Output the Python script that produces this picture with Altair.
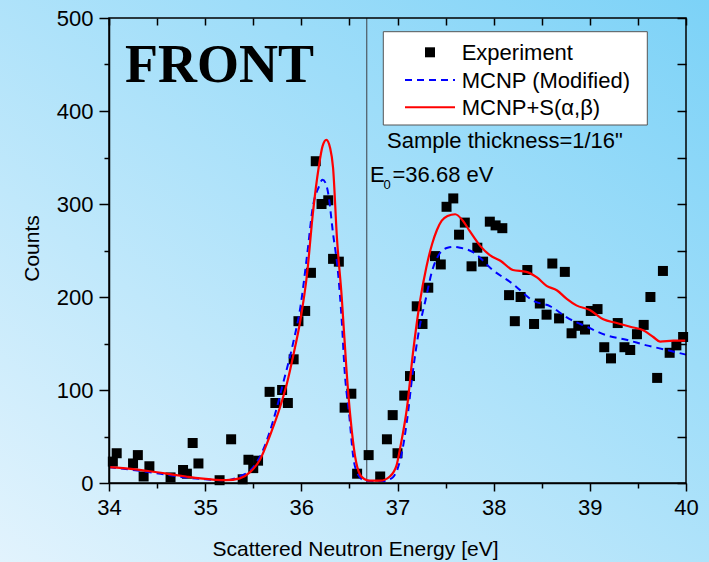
import altair as alt
import pandas as pd

# ---------------- data ----------------
exp_x = [34.04, 34.08, 34.25, 34.30, 34.36, 34.42, 34.64, 34.77, 34.81, 34.87,
         34.93, 35.15, 35.27, 35.39, 35.45, 35.50, 35.55, 35.67, 35.73, 35.80,
         35.86, 35.92, 35.97, 36.04, 36.10, 36.15, 36.21, 36.28, 36.33, 36.39,
         36.45, 36.52, 36.58, 36.70, 36.82, 36.89, 36.95, 37.00, 37.07, 37.13,
         37.20, 37.26, 37.32, 37.39, 37.45, 37.51, 37.58, 37.64, 37.70, 37.77,
         37.83, 37.89, 37.96, 38.02, 38.09, 38.16, 38.22, 38.28, 38.35, 38.42,
         38.48, 38.55, 38.61, 38.68, 38.74, 38.81, 38.88, 38.95, 39.01, 39.08,
         39.15, 39.22, 39.29, 39.36, 39.42, 39.49, 39.56, 39.63, 39.70, 39.76,
         39.83, 39.90, 39.97]
exp_y = [23, 32, 21, 30, 7, 18, 6, 14, 10, 43,
         21, 3, 47, 4, 25, 16, 24, 98, 86, 100,
         86, 133, 174, 185, 226, 346, 300, 304, 241, 238,
         81, 96, 10, 30, 7, 47, 73, 32, 94, 115,
         190, 171, 210, 244, 235, 297, 306, 267, 280, 233,
         253, 238, 281, 277, 274, 202, 174, 200, 229, 171,
         193, 181, 236, 177, 227, 161, 169, 165, 185, 187,
         146, 134, 172, 146, 143, 160, 170, 200, 113, 228,
         140, 148, 157]

red_x = [34.00, 34.25, 34.60, 34.80, 34.95, 35.22, 35.36, 35.47, 35.57, 35.67,
         35.78, 35.85, 35.92, 35.99, 36.06, 36.12, 36.18, 36.22, 36.26, 36.30,
         36.33, 36.37, 36.42, 36.47, 36.51, 36.56, 36.61, 36.66, 36.71, 36.82,
         36.92, 36.99, 37.03, 37.10, 37.16, 37.23, 37.30, 37.36, 37.41, 37.46,
         37.52, 37.60, 37.68, 37.75, 37.86, 37.96, 38.07, 38.20, 38.34, 38.45,
         38.55, 38.66, 38.76, 38.86, 39.00, 39.14, 39.28, 39.42, 39.56, 39.66,
         39.73, 39.87, 40.00]
red_y = [17, 15, 10, 7, 5, 3, 5, 12, 25, 50,
         82, 107, 139, 175, 225, 290, 339, 362, 369, 360,
         339, 264, 200, 121, 71, 28, 9, 4, 2.5, 2.5,
         7, 19, 39, 82, 139, 193, 232, 257, 272, 282,
         287, 289, 282, 271, 255, 245, 239, 229, 227, 221,
         212, 207, 198, 191, 186, 176, 172, 168, 164, 157,
         152, 153, 153]

blue_x = [34.00, 34.25, 34.60, 34.80, 35.00, 35.22, 35.36, 35.50, 35.60, 35.71,
          35.81, 35.92, 35.99, 36.06, 36.12, 36.18, 36.22, 36.25, 36.28, 36.33,
          36.38, 36.42, 36.45, 36.50, 36.54, 36.59, 36.65, 36.75, 36.85, 36.95,
          37.00, 37.05, 37.10, 37.16, 37.23, 37.29, 37.36, 37.44, 37.52, 37.58,
          37.65, 37.79, 37.99, 38.20, 38.41, 38.59, 38.76, 38.97, 39.17, 39.38,
          39.59, 39.80, 40.00]
blue_y = [17, 14, 9, 6, 4, 3, 7, 17, 35, 68,
          107, 153, 189, 245, 297, 318, 326, 323, 311, 268,
          228, 175, 121, 71, 28, 9, 3, 2, 2, 6,
          15, 35, 68, 120, 168, 196, 228, 247, 253, 254,
          253, 248, 229, 214, 196, 190, 178, 168, 159, 154,
          148, 143, 138]

x_ticks = [34, 34.5, 35, 35.5, 36, 36.5, 37, 37.5, 38, 38.5, 39, 39.5, 40]
y_ticks = [0, 50, 100, 150, 200, 250, 300, 350, 400, 450, 500]

legend_labels = ["Experiment", "MCNP (Modified)", "MCNP+S(\u03b1,\u03b2)"]

exp_df = pd.DataFrame({"E": exp_x, "Counts": exp_y})
red_df = pd.DataFrame({"E": red_x, "Counts": red_y})
blue_df = pd.DataFrame({"E": blue_x, "Counts": blue_y})
one = pd.DataFrame({"a": [0]})

W, H = 577, 465
FONT = "Liberation Sans"
xs = alt.Scale(domain=[34, 40], nice=False, zero=False)
ys = alt.Scale(domain=[0, 500], nice=False, zero=False)

# background gradient over the whole page
bg = alt.Chart(one).mark_rect(
    fill=alt.LinearGradient(
        gradient="linear",
        stops=[alt.GradientStop(offset=0, color="#e2f3fd"),
               alt.GradientStop(offset=1, color="#7cd2f7")],
        x1=0, y1=1, x2=1, y2=0),
    strokeWidth=0,
).encode(x=alt.value(-109), x2=alt.value(W + 23), y=alt.value(-18), y2=alt.value(H + 79))

x_axis_main = alt.Axis(
    values=x_ticks, orient="bottom",
    labelExpr="datum.value % 1 === 0 ? format(datum.value, 'd') : ''",
    tickSize={"condition": {"test": "datum.value % 1 === 0", "value": 8}, "value": 5},
    labelPadding=6, labelFontSize=22, labelFont=FONT, labelColor="black",
    labelFlush=False, labelOverlap=False,
    title="Scattered Neutron Energy [eV]", titleFont=FONT, titleFontSize=21,
    titleFontWeight="normal", titleX=246, titleY=72, titleBaseline="alphabetic",
    titleAlign="center", zindex=2)
y_axis_main = alt.Axis(
    values=y_ticks, orient="left",
    labelExpr="datum.value % 100 === 0 ? format(datum.value, 'd') : ''",
    tickSize={"condition": {"test": "datum.value % 100 === 0", "value": 10}, "value": 5},
    labelPadding=6, labelFontSize=22, labelFont=FONT, labelColor="black",
    labelFlush=False, labelOverlap=False,
    title="Counts", titleFont=FONT, titleFontSize=21, titleFontWeight="normal",
    titleX=-71, titleY=230, titleAngle=270, titleBaseline="alphabetic",
    titleAlign="center", zindex=2)

x_axis_top = alt.Axis(values=x_ticks, orient="top", labels=False, domain=False,
                      tickSize=7, offset=-7, title=None, zindex=2)
y_axis_right = alt.Axis(values=y_ticks, orient="right", labels=False, domain=False,
                        tickSize=9, offset=-9, title=None, zindex=2)

e0_rule = alt.Chart(one).mark_rule(color="#4d5a63", strokeWidth=1.2).encode(
    x=alt.datum(36.68, scale=xs, axis=None))

points = alt.Chart(exp_df).mark_square(size=100, color="black", opacity=1).encode(
    x=alt.X("E:Q", scale=xs, axis=x_axis_main),
    y=alt.Y("Counts:Q", scale=ys, axis=y_axis_main))

axes2 = alt.Chart(exp_df).mark_point(opacity=0).encode(
    x=alt.X("E:Q", scale=xs, axis=x_axis_top),
    y=alt.Y("Counts:Q", scale=ys, axis=y_axis_right))

blue = alt.Chart(blue_df).mark_line(
    color="#0000ff", strokeWidth=2, strokeDash=[7, 5], interpolate="monotone").encode(
    x=alt.X("E:Q", scale=xs, axis=None), y=alt.Y("Counts:Q", scale=ys, axis=None))

red = alt.Chart(red_df).mark_line(
    color="#ff0000", strokeWidth=2.2, interpolate="monotone").encode(
    x=alt.X("E:Q", scale=xs, axis=None), y=alt.Y("Counts:Q", scale=ys, axis=None))

border = alt.Chart(one).mark_rect(fill=None, stroke="black", strokeWidth=1.5).encode(
    x=alt.value(0), x2=alt.value(W), y=alt.value(0), y2=alt.value(H))

def txt(s, x, y, size=22, font=FONT, weight="normal"):
    return alt.Chart(one).mark_text(
        text=s, font=font, fontSize=size, fontWeight=weight, align="left",
        baseline="alphabetic", color="black").encode(x=alt.value(x), y=alt.value(y))

front = txt("FRONT", 16, 63.7, size=54, font="Liberation Serif", weight="bold")
sample = txt("Sample thickness=1/16\"", 278, 129.7)
e_main = txt("E", 261, 163.7)
e_sub = txt("0", 274.5, 171, size=13)
e_rest = txt("=36.68 eV", 283.5, 163.7)

leg_box = alt.Chart(one).mark_rect(fill="white", stroke="#555555", strokeWidth=1).encode(
    x=alt.value(274.3), x2=alt.value(538.3), y=alt.value(13.7), y2=alt.value(107))
leg_sq = alt.Chart(one).mark_square(size=100, color="black", opacity=1).encode(
    x=alt.value(321), y=alt.value(34.3))
leg_blue = alt.Chart(one).mark_rule(color="#0000ff", strokeWidth=2, strokeDash=[7, 5]).encode(
    x=alt.value(296), x2=alt.value(346), y=alt.value(62))
leg_red = alt.Chart(one).mark_rule(color="#ff0000", strokeWidth=2).encode(
    x=alt.value(296), x2=alt.value(346), y=alt.value(89.3))
leg_t1 = txt(legend_labels[0], 352.7, 42)
leg_t2 = txt(legend_labels[1], 352.7, 69.5)
leg_t3 = txt(legend_labels[2], 352.7, 96.5)

chart = alt.layer(
    bg, e0_rule, points, axes2, blue, red, border,
    front, sample, e_main, e_sub, e_rest,
    leg_box, leg_sq, leg_blue, leg_red, leg_t1, leg_t2, leg_t3,
).resolve_axis(x="independent", y="independent").properties(
    width=W, height=H,
    autosize=alt.AutoSizeParams(type="none"),
    padding={"left": 109, "top": 18, "right": 23, "bottom": 79},
    background="#b5e3fa",
).configure_view(stroke=None).configure_axis(
    domainColor="black", domainWidth=1.5, tickColor="black", tickWidth=1.5, grid=False,
)

chart.save("out.html", embed_options={"renderer": "svg", "actions": False})
